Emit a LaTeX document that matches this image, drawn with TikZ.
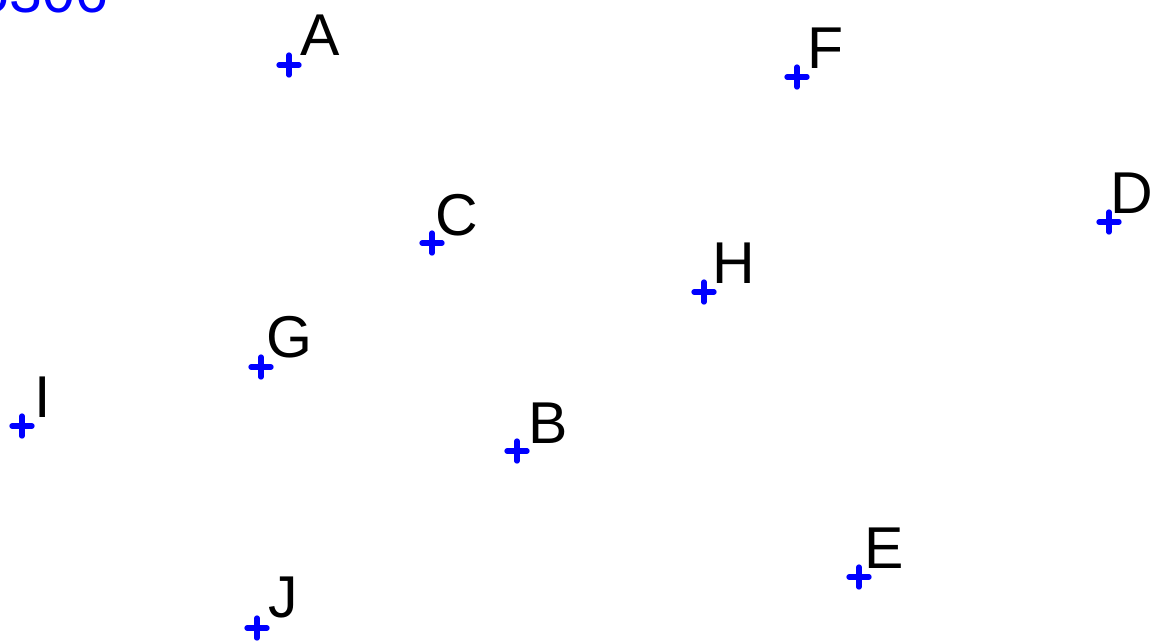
\documentclass[tikz,border=0pt]{standalone}
\usepackage{fontspec}
\setmainfont{Liberation Sans}
\begin{document}
\begin{tikzpicture}[x=0.75pt,y=-0.75pt,
  lbl/.style={anchor=base west,inner sep=0pt,outer sep=0pt,font=\fontsize{44.25}{50}\selectfont,text=black},
  crossmark/.style={draw=blue,line width=4pt,line cap=round}]
\useasboundingbox (0,0) rectangle (1160,643);
\clip (0,0) rectangle (1160,643);
\node[lbl,text=blue] (top) at (-23,12) {5306};
% point coordinates
\coordinate (pA) at (289,65);
\coordinate (pB) at (517,451);
\coordinate (pC) at (432,243);
\coordinate (pD) at (1109,222);
\coordinate (pE) at (859,577);
\coordinate (pF) at (797,77);
\coordinate (pG) at (261,367);
\coordinate (pH) at (704,292);
\coordinate (pI) at (22,426);
\coordinate (pJ) at (257,628);
\foreach \p in {A,B,C,D,E,F,G,H,I,J}{
  \draw[crossmark] (p\p) ++(-10,0) -- ++(20,0) (p\p) ++(0,-10) -- ++(0,20);
}
\node[lbl] (tA) at (300,55) {A};
\node[lbl] (tB) at (528,443) {B};
\node[lbl] (tC) at (435,235) {C};
\node[lbl] (tD) at (1110.5,213) {D};
\node[lbl] (tE) at (864,568) {E};
\node[lbl] (tF) at (807,68) {F};
\node[lbl] (tG) at (266,357) {G};
\node[lbl] (tH) at (712,283) {H};
\node[lbl] (tI) at (34.5,417) {I};
\node[lbl] (tJ) at (268,617) {J};
\end{tikzpicture}
\end{document}
